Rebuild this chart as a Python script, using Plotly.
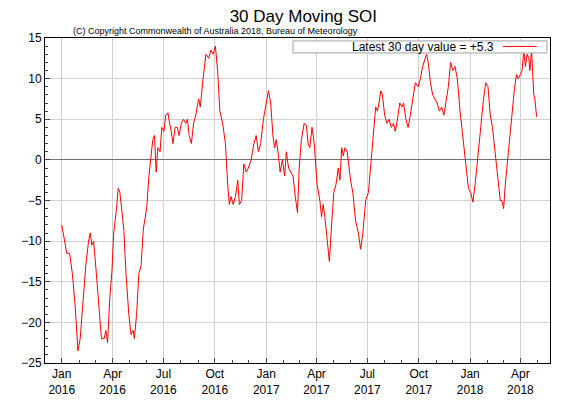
import plotly.graph_objects as go
import pandas as pd

dates = ["2016-01-01","2016-01-05","2016-01-10","2016-01-15","2016-01-20","2016-01-25","2016-01-30","2016-02-03","2016-02-08","2016-02-13","2016-02-18","2016-02-21","2016-02-24","2016-02-27","2016-03-03","2016-03-08","2016-03-12","2016-03-17","2016-03-20","2016-03-23","2016-03-27","2016-03-31","2016-04-03","2016-04-08","2016-04-11","2016-04-14","2016-04-18","2016-04-21","2016-04-25","2016-04-30","2016-05-04","2016-05-08","2016-05-10","2016-05-14","2016-05-18","2016-05-22","2016-05-26","2016-06-01","2016-06-05","2016-06-09","2016-06-12","2016-06-15","2016-06-18","2016-06-21","2016-06-25","2016-06-28","2016-07-02","2016-07-05","2016-07-09","2016-07-12","2016-07-15","2016-07-18","2016-07-22","2016-07-26","2016-07-29","2016-08-02","2016-08-06","2016-08-10","2016-08-13","2016-08-16","2016-08-20","2016-08-24","2016-08-28","2016-09-02","2016-09-05","2016-09-10","2016-09-15","2016-09-20","2016-09-24","2016-09-28","2016-10-02","2016-10-06","2016-10-10","2016-10-15","2016-10-20","2016-10-24","2016-10-27","2016-10-30","2016-11-03","2016-11-07","2016-11-11","2016-11-14","2016-11-18","2016-11-22","2016-11-26","2016-11-30","2016-12-05","2016-12-10","2016-12-14","2016-12-18","2016-12-22","2016-12-27","2017-01-01","2017-01-05","2017-01-09","2017-01-13","2017-01-16","2017-01-19","2017-01-23","2017-01-26","2017-01-30","2017-02-03","2017-02-06","2017-02-10","2017-02-14","2017-02-18","2017-02-22","2017-02-26","2017-03-01","2017-03-05","2017-03-10","2017-03-14","2017-03-17","2017-03-20","2017-03-24","2017-03-28","2017-04-02","2017-04-07","2017-04-10","2017-04-13","2017-04-16","2017-04-20","2017-04-24","2017-04-28","2017-05-02","2017-05-06","2017-05-10","2017-05-13","2017-05-16","2017-05-19","2017-05-22","2017-05-26","2017-06-01","2017-06-05","2017-06-10","2017-06-15","2017-06-19","2017-06-23","2017-06-28","2017-07-03","2017-07-08","2017-07-13","2017-07-16","2017-07-19","2017-07-22","2017-07-25","2017-07-28","2017-08-01","2017-08-05","2017-08-09","2017-08-13","2017-08-17","2017-08-20","2017-08-24","2017-08-28","2017-09-01","2017-09-04","2017-09-08","2017-09-12","2017-09-16","2017-09-21","2017-09-25","2017-09-30","2017-10-04","2017-10-08","2017-10-12","2017-10-15","2017-10-18","2017-10-22","2017-10-26","2017-10-30","2017-11-03","2017-11-07","2017-11-11","2017-11-15","2017-11-19","2017-11-23","2017-11-27","2017-12-01","2017-12-05","2017-12-09","2017-12-14","2017-12-19","2017-12-24","2017-12-29","2018-01-02","2018-01-06","2018-01-10","2018-01-15","2018-01-20","2018-01-25","2018-01-29","2018-02-02","2018-02-06","2018-02-10","2018-02-15","2018-02-20","2018-02-24","2018-02-27","2018-03-02","2018-03-05","2018-03-09","2018-03-13","2018-03-17","2018-03-21","2018-03-25","2018-03-28","2018-04-01","2018-04-04","2018-04-07","2018-04-10","2018-04-13","2018-04-16","2018-04-18","2018-04-21","2018-04-25","2018-04-27","2018-04-30"]
soi = [-8,-9.5,-11.5,-11.5,-14,-18,-23.5,-22,-17,-13,-10,-9,-10.5,-10,-14,-18,-22,-22,-21,-22.5,-17,-13.5,-9,-6,-3.5,-4,-7,-8.5,-14,-19,-21.5,-21,-22,-19,-14,-13,-8.5,-6,-2,1,2.5,3,-1.5,1.5,1,4,3.5,5.5,5.8,4.5,3.5,2,4,4,3,4.5,5,4.5,5,3,2,4.5,5.5,7.5,6.5,10,13,12.5,13.5,13,14,11,6,4.5,2,-3,-5.5,-4.5,-5.5,-4.5,-2.5,-5.5,-5,-0.5,-1.5,-1,0,2,3,1,2,5,7,8.5,7,3,1.5,2.5,0.5,-1.5,0,-2,1,-1,-1.5,-2,-4.5,-6.5,-1,2.5,4.5,4.2,2,1.5,4,2,-3,-5,-7,-5.5,-7,-9.5,-12.5,-8,-4,-3,-1,-2.5,1.5,0.5,1.5,1,-2.5,-4,-7.5,-9,-11,-9,-5,-4,0,4,6.5,6,7,8.5,8,5.5,4.5,5,4,4.5,3.5,5,7,6.5,7,5,4,5.5,7.5,9.5,9,10,11.5,12.5,13,12,9.5,8,7.5,7,6,6.5,5.5,7,9,12,11,11.5,10,6,3,-0.5,-3.5,-4,-5.2,-3,1,4,7.5,9.5,9,5.5,4,0.5,-2.5,-5,-5,-6,-3,0,3,6,8.5,10.5,10,10.5,11,13.5,11.5,13,12.5,11,13.5,8,7.5,5.3]
tick_vals = ["2016-01-01","2016-04-01","2016-07-01","2016-10-01","2017-01-01","2017-04-01","2017-07-01","2017-10-01","2018-01-01","2018-04-01"]
tick_text = ["Jan<br>2016","Apr<br>2016","Jul<br>2016","Oct<br>2016","Jan<br>2017","Apr<br>2017","Jul<br>2017","Oct<br>2017","Jan<br>2018","Apr<br>2018"]
legend_text = "Latest 30 day value = +5.3"

fig = go.Figure(go.Scatter(x=pd.to_datetime(dates), y=soi, mode="lines",
                           line=dict(color="red", width=1), showlegend=False))
fig.update_layout(
    width=568, height=395, paper_bgcolor="white", plot_bgcolor="white",
    margin=dict(l=37, r=26, t=30, b=40, pad=0),
    font=dict(family="Liberation Sans, Arial", size=12, color="black"),
    title=dict(text="30 Day Moving SOI", x=0.52, xanchor="center", y=0.995, yanchor="top",
               font=dict(size=17)),
)
fig.update_xaxes(range=["2015-12-02","2018-05-24"], tickvals=pd.to_datetime(tick_vals), ticktext=tick_text,
                 showgrid=True, gridcolor="#d0d0d0", gridwidth=1, showline=True, linecolor="black",
                 linewidth=1, mirror=True, ticks="inside", ticklen=5, tickfont=dict(size=12),
                 minor=dict(dtick="M1", ticks="inside", ticklen=3, tick0="2016-01-01"), automargin=False)
fig.update_yaxes(range=[-25, 15], dtick=5, showgrid=True, gridcolor="#d0d0d0", zeroline=True,
                 zerolinecolor="#707070", zerolinewidth=1, showline=True, linecolor="black",
                 linewidth=1, mirror=True, ticks="inside", ticklen=5, tickfont=dict(size=12),
                 minor=dict(dtick=1, ticks="inside", ticklen=3), automargin=False)
fig.add_annotation(text="(C) Copyright Commonwealth of Australia 2018, Bureau of Meteorology",
                   xref="paper", yref="paper", x=0.052, y=1.0, xanchor="left", yanchor="bottom",
                   showarrow=False, font=dict(size=9))
fig.add_shape(type="rect", xref="paper", yref="paper", x0=0.491, x1=0.994, y0=0.954, y1=0.991,
              line=dict(color="#a0a0a0", width=1), fillcolor="white")
fig.add_annotation(text=legend_text, xref="paper", yref="paper", x=0.893, y=0.972,
                   xanchor="right", yanchor="middle", showarrow=False, font=dict(size=12))
fig.add_shape(type="line", xref="paper", yref="paper", x0=0.907, x1=0.974, y0=0.974, y1=0.974,
              line=dict(color="red", width=1))
fig.write_html("out.html")
